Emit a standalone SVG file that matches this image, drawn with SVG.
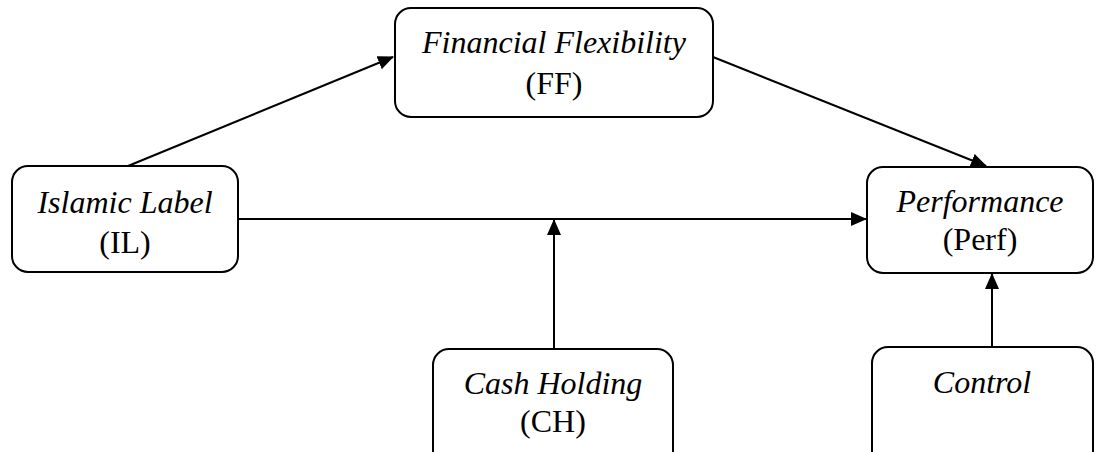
<svg xmlns="http://www.w3.org/2000/svg" width="1096" height="452" viewBox="0 0 1096 452">
<style>
.box{fill:#fff;stroke:#000;stroke-width:2}
.t{font-family:"Liberation Serif","Times New Roman",serif;font-size:32px;fill:#000;text-anchor:middle}
.i{font-style:italic}
.c{stroke:#000;stroke-width:2;fill:none}
</style>
<defs>
<marker id="ah" markerWidth="16" markerHeight="14" refX="15" refY="7" orient="auto" markerUnits="userSpaceOnUse">
<path d="M0,0 L16,7 L0,14 Z" fill="#000"/>
</marker>
</defs>
<rect width="1096" height="452" fill="#fff"/>
<g id="connectors">
<line class="c" x1="128" y1="166" x2="393" y2="57" marker-end="url(#ah)"/>
<line class="c" x1="713" y1="57" x2="986" y2="166" marker-end="url(#ah)"/>
<line class="c" x1="238" y1="219" x2="866" y2="219" marker-end="url(#ah)"/>
<line class="c" x1="554" y1="349" x2="554" y2="220" marker-end="url(#ah)"/>
<line class="c" x1="992" y1="347" x2="992" y2="274" marker-end="url(#ah)"/>
</g>
<g id="node-ff">
<rect class="box" x="395" y="8" width="318" height="109" rx="16"/>
<text class="t i" x="554" y="53">Financial Flexibility</text>
<text class="t" x="554" y="94">(FF)</text>
</g>
<g id="node-il">
<rect class="box" x="12" y="166" width="226" height="106" rx="16"/>
<text class="t i" x="125" y="213">Islamic Label</text>
<text class="t" x="125" y="253">(IL)</text>
</g>
<g id="node-perf">
<rect class="box" x="867" y="167" width="226" height="106" rx="16"/>
<text class="t i" x="980" y="212">Performance</text>
<text class="t" x="980" y="250">(Perf)</text>
</g>
<g id="node-ch">
<rect class="box" x="433" y="349" width="240" height="120" rx="16"/>
<text class="t i" x="553" y="394">Cash Holding</text>
<text class="t" x="553" y="432">(CH)</text>
</g>
<g id="node-control">
<rect class="box" x="872" y="347" width="221" height="120" rx="16"/>
<text class="t i" x="982" y="393">Control</text>
</g>
</svg>
